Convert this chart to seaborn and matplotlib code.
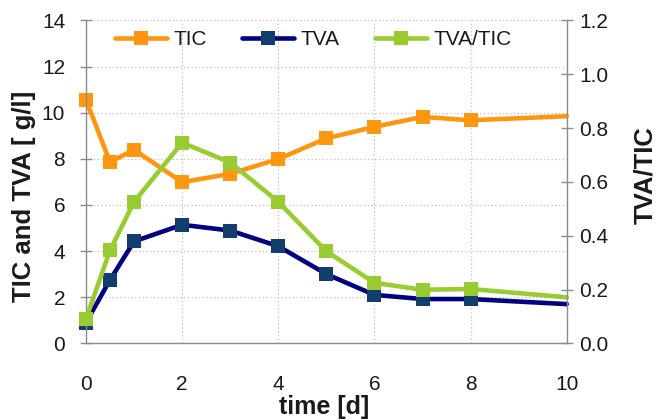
import matplotlib
matplotlib.use("Agg")
import matplotlib.pyplot as plt
import seaborn as sns
import pandas as pd
from matplotlib.lines import Line2D

# Sampling days (the last sample at day 10 is drawn without a marker)
days = [0, 0.5, 1, 2, 3, 4, 5, 6, 7, 8, 10]
tic = [10.56, 7.86, 8.39, 6.99, 7.35, 7.99, 8.89, 9.39, 9.82, 9.67, 9.85]
tva = [0.90, 2.75, 4.42, 5.14, 4.89, 4.21, 3.00, 2.10, 1.92, 1.92, 1.70]
ratio = [0.091, 0.346, 0.526, 0.746, 0.672, 0.526, 0.342, 0.225, 0.199, 0.202, 0.171]

x_ticks = [0, 2, 4, 6, 8, 10]
left_ticks = [0, 2, 4, 6, 8, 10, 12, 14]
right_ticks = [0.0, 0.2, 0.4, 0.6, 0.8, 1.0, 1.2]

ORANGE = "#FF9610"
NAVY = "#000080"
NAVY_MARK = "#123E6E"
GREEN = "#99CC33"
SPINE = "#8C8C8C"
TEXT = "#1A1A1A"

MS = 9.5   # marker size (pt)
LW = 3.3   # line width (pt)

sns.set_theme(style="white")
plt.rcParams["font.family"] = ["Liberation Sans", "DejaVu Sans"]

df = pd.DataFrame({"day": days, "TIC": tic, "TVA": tva, "TVA/TIC": ratio})

fig = plt.figure(figsize=(6.59, 4.20), dpi=100)
ax = fig.add_axes([0.1305, 0.1826, 0.7295, 0.7686])
ax2 = ax.twinx()

marks = list(range(len(days) - 1))
common = dict(marker="s", markersize=MS, linewidth=LW, markevery=marks,
              markeredgewidth=0)

sns.lineplot(data=df, x="day", y="TIC", ax=ax, color=ORANGE,
             markerfacecolor=ORANGE, **common)
sns.lineplot(data=df, x="day", y="TVA", ax=ax, color=NAVY,
             markerfacecolor=NAVY_MARK, **common)
sns.lineplot(data=df, x="day", y="TVA/TIC", ax=ax2, color=GREEN,
             markerfacecolor=GREEN, **common)
for a in (ax, ax2):
    for ln in a.get_lines():
        ln.set_clip_on(False)

ax.set_xlim(0, 10)
ax.set_ylim(0, 14)
ax2.set_ylim(0, 1.2)
ax.set_xticks(x_ticks)
ax.set_yticks(left_ticks)
ax2.set_yticks(right_ticks)
ax2.set_yticklabels([f"{v:.1f}" for v in right_ticks])

# dotted grid
ax.grid(True, linestyle=(0, (1, 2)), color="#C0C0C0", linewidth=0.9)
ax2.grid(False)
ax.set_axisbelow(True)

for a in (ax, ax2):
    a.spines["top"].set_visible(False)
    a.tick_params(direction="inout", length=8, width=1, color=SPINE,
                  labelsize=15, labelcolor=TEXT)
ax.spines["right"].set_visible(False)
ax2.spines["left"].set_visible(False)
ax2.spines["bottom"].set_visible(False)
for side in ("left", "bottom"):
    ax.spines[side].set_color(SPINE)
    ax.spines[side].set_linewidth(1)
ax2.spines["right"].set_color(SPINE)
ax2.spines["right"].set_linewidth(1)
ax.tick_params(axis="x", pad=19)
ax.tick_params(axis="y", pad=11)
ax2.tick_params(axis="y", pad=5)

ax.set_xlabel("time [d]", fontsize=18, fontweight="bold", color=TEXT)
ax.set_ylabel("TIC and TVA [ g/l]", fontsize=18.5, fontweight="bold", color=TEXT)
ax2.set_ylabel("TVA/TIC", fontsize=18.5, fontweight="bold", color=TEXT)
ax.xaxis.label.set_va("center")
ax.xaxis.set_label_coords(0.496, -0.197)
ax.yaxis.label.set_va("center")
ax.yaxis.set_label_coords(-0.129, 0.456)
ax2.yaxis.label.set_va("center")
ax2.yaxis.label.set_rotation(90)
ax2.yaxis.set_label_coords(1.164, 0.521)

handles = [
    Line2D([], [], color=ORANGE, marker="s", markersize=MS, linewidth=LW,
           markerfacecolor=ORANGE, markeredgewidth=0),
    Line2D([], [], color=NAVY, marker="s", markersize=MS, linewidth=LW,
           markerfacecolor=NAVY_MARK, markeredgewidth=0),
    Line2D([], [], color=GREEN, marker="s", markersize=MS, linewidth=LW,
           markerfacecolor=GREEN, markeredgewidth=0),
]
leg = ax2.legend(handles, ["TIC", "TVA", "TVA/TIC"], ncol=3, frameon=False,
                 loc="center left", bbox_to_anchor=(0.043, 0.94), fontsize=15,
                 handlelength=2.5, handletextpad=0.3, columnspacing=1.7,
                 borderaxespad=0)
for t in leg.get_texts():
    t.set_color(TEXT)

fig.savefig("out.png", dpi=100)
